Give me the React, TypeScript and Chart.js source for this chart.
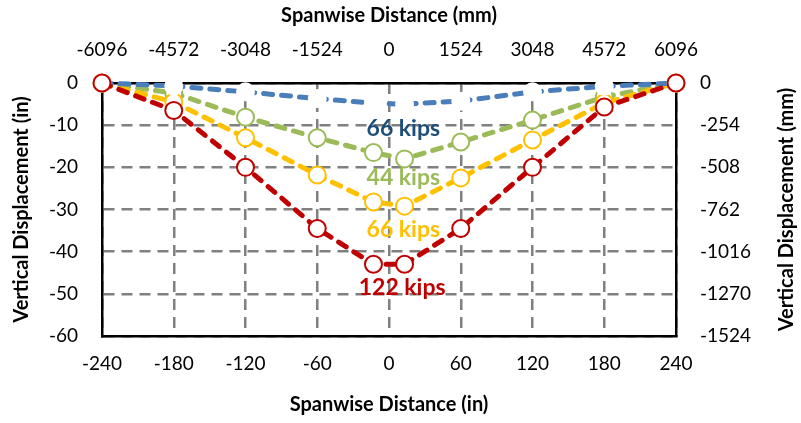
import React, { useEffect, useRef } from 'react';
import { Chart, registerables } from 'chart.js';

Chart.register(...registerables);

// Spanwise positions (in)
const spanIn = [-240, -180, -120, -60, -13, 13, 60, 120, 180, 240];
// Vertical displacement (in) per load level
const disp122 = [0, -6.5, -20, -34.5, -43, -43, -34.5, -20, -5.7, 0];
const dispBlue = [0, -0.7, -2.1, -3.7, -4.8, -5.0, -4.3, -2.1, -0.8, 0];
const dispYellow = [0, -4.5, -13, -21.8, -28.2, -29.2, -22.5, -13.5, -4.7, 0];
const dispGreen = [0, -2.4, -8.1, -13, -16.5, -18, -14, -8.8, -3.3, 0];

// Annotation labels
const labelTexts = ['66 kips', '44 kips', '66 kips', '122 kips'];
const labelColors = ['#1F4E79', '#9BBB59', '#FFC000', '#C00000'];
const labelX = [12, 12, 12, 11];
const labelY = [-10.8, -22.4, -34.7, -48.5];

const FONT = 'Lato, "Open Sans", sans-serif';

const toPts = (ys: number[]) => spanIn.map((x, i) => ({ x, y: ys[i] }));
const plain = (v: any) => String(v);

export default function App() {
  const ref = useRef<HTMLCanvasElement | null>(null);
  useEffect(() => {
    const canvas = ref.current;
    if (!canvas) return;
    const labelPlugin = {
      id: 'labels',
      afterDatasetsDraw(chart: any) {
        const { ctx, scales } = chart;
        ctx.save();
        ctx.font = `bold 23px ${FONT}`;
        ctx.textAlign = 'center';
        ctx.textBaseline = 'middle';
        labelTexts.forEach((t, i) => {
          ctx.fillStyle = labelColors[i];
          ctx.fillText(t, scales.x.getPixelForValue(labelX[i]), scales.y.getPixelForValue(labelY[i]));
        });
        ctx.restore();
      },
      afterDraw(chart: any) {
        const { ctx } = chart;
        const s = chart.scales.y2;
        ctx.save();
        ctx.font = `bold 20px ${FONT}`;
        ctx.fillStyle = '#000';
        ctx.textAlign = 'center';
        ctx.textBaseline = 'middle';
        ctx.translate(787, (s.top + s.bottom) / 2);
        ctx.rotate(-Math.PI / 2);
        ctx.fillText('Vertical Displacement (mm)', 0, 0);
        ctx.restore();
      },
    };
    const ds = (label: string, data: number[], color: string, fill: string, pborder: string) => ({
      label,
      data: toPts(data),
      borderColor: color,
      borderWidth: 5,
      borderDash: [9, 9],
      borderCapStyle: 'round' as const,
      pointRadius: 8.5,
      pointBorderWidth: 2,
      pointBackgroundColor: fill,
      pointBorderColor: pborder,
      tension: 0,
      clip: false,
    });
    const tickFont = { family: FONT, size: 19 };
    const titleFont = { family: FONT, size: 20, weight: 'bold' };
    const chart = new Chart(canvas, {
      type: 'line',
      data: {
        datasets: [
          ds('122 kips', disp122, '#C00000', '#FFFFFF', '#C00000'),
          ds('66 kips (blue)', dispBlue, '#4A7EBB', '#FFFFFF', '#FFFFFF'),
          ds('66 kips', dispYellow, '#FFC000', '#FFFFFF', '#FFC000'),
          ds('44 kips', dispGreen, '#9BBB59', '#FFFFFF', '#9BBB59'),
        ],
      },
      options: {
        animation: false,
        responsive: false,
        devicePixelRatio: 1,
        layout: { padding: 0 },
        plugins: { legend: { display: false }, tooltip: { enabled: false } },
        events: [],
        scales: {
          x: {
            type: 'linear',
            position: 'bottom',
            min: -240,
            max: 240,
            afterFit: (s: any) => { s.height = 87; },
            ticks: { stepSize: 60, color: '#000', font: tickFont, padding: 16, maxRotation: 0, callback: plain },
            grid: { color: '#808080', lineWidth: 2.5, drawTicks: false },
            border: { color: '#000', width: 2.5, dash: [11, 7] },
            title: { display: true, text: 'Spanwise Distance (in)', color: '#000', font: titleFont, padding: { top: 0, bottom: 6 } },
          },
          x2: {
            type: 'linear',
            position: 'top',
            min: -6096,
            max: 6096,
            afterFit: (s: any) => { s.height = 83; },
            ticks: { stepSize: 1524, color: '#000', font: tickFont, padding: 22, maxRotation: 0, callback: plain },
            grid: { display: false, drawTicks: false },
            border: { color: '#000', width: 2.5 },
            title: { display: true, text: 'Spanwise Distance (mm)', color: '#000', font: titleFont, padding: { top: 4, bottom: 0 } },
          },
          y: {
            type: 'linear',
            position: 'left',
            min: -60,
            max: 0,
            afterFit: (s: any) => { s.width = 102; },
            ticks: { stepSize: 10, color: '#000', font: tickFont, padding: 24, callback: plain },
            grid: { color: '#808080', lineWidth: 2.5, drawTicks: false },
            border: { color: '#000', width: 2.5, dash: [11, 7] },
            title: { display: true, text: 'Vertical Displacement (in)', color: '#000', font: titleFont, padding: { top: 10, bottom: 0 } },
          },
          y2: {
            type: 'linear',
            position: 'right',
            min: -1524,
            max: 0,
            afterFit: (s: any) => { s.width = 125; },
            ticks: { stepSize: 254, color: '#000', font: tickFont, padding: 24, callback: plain },
            grid: { display: false, drawTicks: false },
            border: { color: '#000', width: 2.5 },
            title: { display: false },
          },
        },
      } as any,
      plugins: [labelPlugin],
    });
    return () => chart.destroy();
  }, []);
  return (
    <div style={{ position: 'absolute', left: 0, top: 0, width: 801, height: 423, background: '#fff' }}>
      <canvas ref={ref} width={801} height={423} style={{ display: 'block', width: 801, height: 423 }} />
    </div>
  );
}
